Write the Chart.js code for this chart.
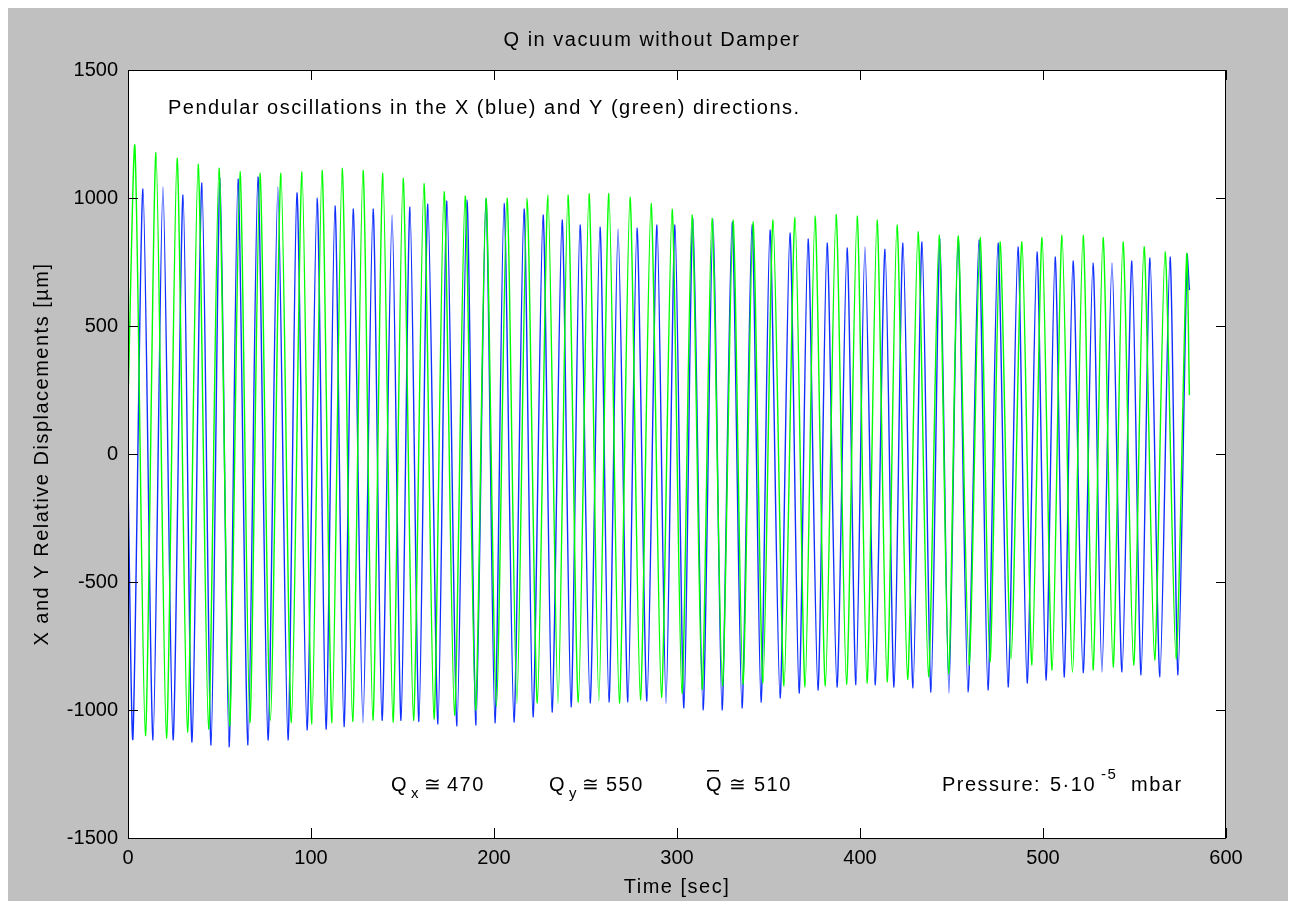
<!DOCTYPE html>
<html>
<head>
<meta charset="utf-8">
<title>Q in vacuum without Damper</title>
<style>
  html, body { margin: 0; padding: 0; background: #fff; }
  canvas { display: block; }
</style>
</head>
<body>
<canvas id="myChart" width="1296" height="909"></canvas>
<script src="https://cdn.jsdelivr.net/npm/chart.js"></script>
<script>
// axis ticks
const xTicks = [0, 100, 200, 300, 400, 500, 600];
const yTicks = [-1500, -1000, -500, 0, 500, 1000, 1500];

// X direction (blue): turning points of the trace, time [sec] and displacement [um]
const blueTime = [0, 2.7, 8.2, 13.7, 19.1, 24.6, 30.1, 35.0, 40.4, 45.4, 50.3, 55.2, 60.1, 65.6, 71.0, 76.5,
  81.9, 87.4, 92.3, 97.8, 103.3, 108.2, 113.1, 118.0, 123.0, 128.4, 133.9, 138.8, 144.3, 149.2, 154.1, 159.0,
  163.9, 169.4, 174.3, 179.8, 185.2, 190.2, 195.6, 200.5, 205.5, 210.9, 216.4, 221.3, 226.8, 231.7, 237.2, 242.1,
  247.0, 252.5, 257.9, 262.8, 267.8, 273.2, 278.1, 283.6, 289.1, 294.0, 298.9, 303.8, 308.7, 314.2, 319.7, 324.6,
  330.1, 335.5, 341.0, 345.9, 350.8, 356.3, 361.7, 366.7, 371.6, 377.0, 382.0, 387.4, 392.9, 397.8, 402.7, 408.2,
  413.7, 418.6, 423.5, 429.0, 433.9, 438.8, 443.7, 448.6, 453.6, 459.0, 465.0, 469.9, 475.4, 480.9, 486.3, 491.3,
  496.7, 501.6, 506.6, 511.5, 516.4, 521.9, 527.3, 532.2, 537.7, 543.2, 548.6, 553.6, 558.5, 563.9, 569.4, 573.8,
  578.7, 580.0];
const blueValue = [-100, -1109, 1035, -1117, 1043, -1117, 1012, -1125, 1059, -1137, 1078, -1145, 1074, -1137, 1082, -1117,
  1043, -1117, 1020, -1078, 1000, -1075, 969, -1065, 957, -1050, 957, -1040, 934, -1040, 965, -1045,
  977, -1055, 988, -1063, 992, -1060, 996, -1050, 980, -1047, 957, -1027, 934, -1008, 914, -988,
  895, -973, 887, -969, 879, -969, 883, -965, 895, -975, 895, -992, 922, -1000, 918, -1000,
  906, -992, 895, -969, 875, -953, 863, -934, 840, -922, 824, -910, 805, -902, 809, -902,
  800, -910, 824, -914, 828, -930, 840, -934, 840, -930, 836, -922, 824, -910, 809, -895,
  789, -883, 770, -871, 754, -855, 746, -852, 746, -852, 754, -863, 766, -871, 770, -863,
  777, 640];

// Y direction (green)
const greenTime = [0, 3.8, 9.5, 15.3, 21.0, 26.8, 32.5, 38.3, 44.0, 49.7, 55.5, 61.2, 66.6, 72.1, 77.8, 83.6,
  89.3, 95.1, 100.5, 106.0, 111.5, 117.0, 122.7, 128.4, 133.8, 139.3, 144.8, 150.3, 156.0, 161.7, 167.2, 172.7,
  178.4, 184.2, 189.9, 195.6, 201.3, 207.1, 212.5, 218.0, 223.7, 229.5, 235.0, 240.4, 246.1, 251.9, 257.3, 262.8,
  268.5, 274.3, 280.0, 285.8, 291.5, 297.3, 302.7, 308.2, 313.7, 319.1, 324.8, 330.6, 336.0, 341.5, 347.0, 352.5,
  358.5, 364.5, 370.0, 375.4, 381.1, 386.9, 392.6, 398.4, 403.8, 409.3, 414.8, 420.2, 426.0, 431.7, 437.4, 443.2,
  448.4, 453.6, 459.6, 465.6, 471.0, 476.5, 482.5, 488.5, 494.0, 499.5, 505.0, 510.4, 516.1, 521.9, 527.3, 532.8,
  538.3, 543.7, 549.5, 555.2, 561.0, 566.7, 572.7, 578.5, 580.0];
const greenValue = [200, 1200, -1100, 1177, -1110, 1155, -1086, 1132, -1074, 1116, -1063, 1103, -1050, 1097, -1040, 1097,
  -1050, 1103, -1055, 1109, -1050, 1116, -1045, 1109, -1040, 1097, -1047, 1077, -1040, 1057, -1035, 1025,
  -1020, 1008, -1000, 999, -985, 999, -975, 999, -973, 1012, -975, 1012, -970, 1018, -965, 1018,
  -973, 1003, -960, 979, -950, 956, -935, 934, -920, 921, -906, 914, -900, 907, -895, 914,
  -906, 925, -910, 930, -906, 936, -900, 930, -895, 914, -890, 895, -880, 868, -870, 855,
  -860, 852, -824, 846, -812, 829, -800, 829, -824, 846, -844, 855, -852, 855, -844, 846,
  -832, 829, -824, 810, -805, 790, -800, 777, 230];

const FONT = '"Liberation Sans", Arial, Helvetica, sans-serif';

const toPoints = (t, v) => t.map((x, i) => ({ x: x, y: v[i] }));

// gray figure, white axes box, inward ticks and the text annotations
const figure = {
  id: 'figure',
  beforeDraw(chart) {
    const { ctx, chartArea: a } = chart;
    ctx.save();
    ctx.fillStyle = '#ffffff';
    ctx.fillRect(0, 0, chart.width, chart.height);
    ctx.fillStyle = '#c0c0c0';
    ctx.fillRect(8, 8, chart.width - 16, chart.height - 16);
    ctx.fillStyle = '#ffffff';
    ctx.fillRect(a.left, a.top, a.right - a.left, a.bottom - a.top);
    ctx.restore();
  },
  afterDraw(chart) {
    const { ctx, chartArea: a, scales } = chart;
    ctx.save();
    ctx.strokeStyle = '#000';
    ctx.lineWidth = 1;
    ctx.strokeRect(a.left + 0.5, a.top + 0.5, a.right - a.left - 1, a.bottom - a.top);
    const tl = 10;
    ctx.beginPath();
    xTicks.forEach(v => {
      const px = Math.round(scales.x.getPixelForValue(v)) + 0.5;
      ctx.moveTo(px, a.bottom); ctx.lineTo(px, a.bottom - tl);
      ctx.moveTo(px, a.top); ctx.lineTo(px, a.top + tl);
    });
    yTicks.forEach(v => {
      const py = Math.round(scales.y.getPixelForValue(v)) + 0.5;
      ctx.moveTo(a.left, py); ctx.lineTo(a.left + tl, py);
      ctx.moveTo(a.right, py); ctx.lineTo(a.right - tl, py);
    });
    ctx.stroke();

    ctx.fillStyle = '#000';
    ctx.textBaseline = 'middle';
    ctx.letterSpacing = '1.5px';
    const main = '20px ' + FONT;
    const sub = '15px ' + FONT;
    ctx.font = main;

    ctx.textAlign = 'center';
    ctx.fillText('Q in vacuum without Damper', 652, 40);
    ctx.fillText('Time [sec]', 677, 887);

    ctx.save();
    ctx.translate(42, 454);
    ctx.rotate(-Math.PI / 2);
    ctx.fillText('X and Y Relative Displacements [\u00b5m]', 0, 0);
    ctx.restore();

    ctx.textAlign = 'left';
    ctx.fillText('Pendular oscillations in the X (blue) and Y (green) directions.', 168, 108);

    const yq = 785;
    // Q_x
    ctx.fillText('Q', 391, yq);
    ctx.font = sub; ctx.fillText('x', 411, yq + 9);
    ctx.font = main; ctx.fillText('\u2245', 424, yq); ctx.fillText('470', 447, yq);
    // Q_y
    ctx.fillText('Q', 549, yq);
    ctx.font = sub; ctx.fillText('y', 569, yq + 9);
    ctx.font = main; ctx.fillText('\u2245', 582, yq); ctx.fillText('550', 606, yq);
    // mean Q
    ctx.fillText('Q', 706, yq);
    ctx.fillRect(707, yq - 15, 12, 1.5);
    ctx.fillText('\u2245', 729, yq); ctx.fillText('510', 754, yq);
    // pressure
    ctx.fillText('Pressure:', 942, yq);
    ctx.fillText('5\u00b710', 1050, yq);
    ctx.font = sub; ctx.fillText('-5', 1101, yq - 10);
    ctx.font = main; ctx.fillText('mbar', 1131, yq);
    ctx.restore();
  }
};

const ctx = document.getElementById('myChart');
new Chart(ctx, {
  type: 'line',
  data: {
    datasets: [
      {
        label: 'Y (green)',
        data: toPoints(greenTime, greenValue),
        borderColor: '#00ff00',
        borderWidth: 1.4,
        pointRadius: 0,
        tension: 0.25,
        fill: false
      },
      {
        label: 'X (blue)',
        data: toPoints(blueTime, blueValue),
        borderColor: '#1030ff',
        borderWidth: 1.4,
        pointRadius: 0,
        tension: 0.25,
        fill: false
      }
    ]
  },
  options: {
    responsive: false,
    animation: false,
    events: [],
    layout: { padding: { top: 70, right: 70, left: 0, bottom: 0 } },
    plugins: { legend: { display: false }, tooltip: { enabled: false } },
    scales: {
      x: {
        type: 'linear',
        min: 0,
        max: 600,
        afterBuildTicks: s => { s.ticks = xTicks.map(v => ({ value: v })); },
        afterFit: s => { s.height = 71; },
        grid: { display: false, drawTicks: false },
        border: { display: false },
        ticks: { color: '#000', font: { family: FONT, size: 20 }, padding: 8, maxRotation: 0, callback: v => String(v) }
      },
      y: {
        type: 'linear',
        min: -1500,
        max: 1500,
        afterBuildTicks: s => { s.ticks = yTicks.map(v => ({ value: v })); },
        afterFit: s => { s.width = 128; },
        grid: { display: false, drawTicks: false },
        border: { display: false },
        ticks: { color: '#000', font: { family: FONT, size: 20 }, padding: 10, callback: v => String(v) }
      }
    }
  },
  plugins: [figure]
});
</script>
</body>
</html>
